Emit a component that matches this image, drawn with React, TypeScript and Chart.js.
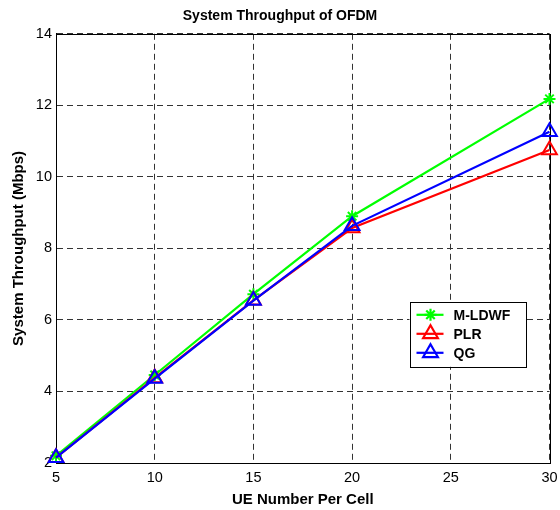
import React, { useEffect, useRef } from "react";
import { Chart, registerables } from "chart.js";

Chart.register(...registerables);

const ueNumbers = [5, 10, 15, 20, 30];
const mldwfValues = [2.2, 4.46, 6.72, 8.9, 12.18];
const plrValues = [2.15, 4.38, 6.55, 8.57, 10.75];
const qgValues = [2.15, 4.36, 6.54, 8.63, 11.26];
const yTicks = [2, 4, 6, 8, 10, 12, 14];
const xTicks = [5, 10, 15, 20, 25, 30];

const FONT = "'Liberation Sans', Arial, Helvetica, sans-serif";

const boxPlugin = {
  id: "boxPlugin",
  beforeDatasetsDraw(chart: any) {
    const { ctx, chartArea } = chart;
    ctx.save();
    ctx.strokeStyle = "#000";
    ctx.lineWidth = 1;
    ctx.setLineDash([]);
    ctx.strokeRect(
      Math.round(chartArea.left) + 0.5,
      Math.round(chartArea.top) + 0.5,
      Math.round(chartArea.right - chartArea.left),
      Math.round(chartArea.bottom - chartArea.top)
    );
    ctx.restore();
  },
};

function drawMarker(ctx: any, style: string, x: number, y: number, r: number) {
  ctx.beginPath();
  if (style === "star") {
    ctx.moveTo(x - r, y);
    ctx.lineTo(x + r, y);
    ctx.moveTo(x, y - r);
    ctx.lineTo(x, y + r);
    const d = r * Math.SQRT1_2;
    ctx.moveTo(x - d, y - d);
    ctx.lineTo(x + d, y + d);
    ctx.moveTo(x - d, y + d);
    ctx.lineTo(x + d, y - d);
    ctx.stroke();
  } else {
    const s = Math.sqrt(3) / 2;
    ctx.moveTo(x, y - r);
    ctx.lineTo(x + r * s, y + r / 2);
    ctx.lineTo(x - r * s, y + r / 2);
    ctx.closePath();
    ctx.stroke();
  }
}

const legendPlugin = {
  id: "insideLegend",
  afterDraw(chart: any) {
    const { ctx, chartArea } = chart;
    const left = chartArea.right - 140;
    const top = chartArea.top + 268;
    const w = 116;
    const h = 65;
    ctx.save();
    ctx.fillStyle = "#fff";
    ctx.fillRect(left, top, w, h);
    ctx.strokeStyle = "#000";
    ctx.lineWidth = 1;
    ctx.setLineDash([]);
    ctx.strokeRect(Math.round(left) + 0.5, Math.round(top) + 0.5, w, h);
    chart.data.datasets.forEach((ds: any, i: number) => {
      const y = top + 13 + i * 19;
      ctx.strokeStyle = ds.borderColor;
      ctx.lineWidth = 2.2;
      ctx.beginPath();
      ctx.moveTo(left + 7, y);
      ctx.lineTo(left + 34, y);
      ctx.stroke();
      drawMarker(ctx, ds.pointStyle, left + 21, y, ds.pointRadius);
      ctx.fillStyle = "#000";
      ctx.font = `bold 14px ${FONT}`;
      ctx.textBaseline = "middle";
      ctx.textAlign = "left";
      ctx.fillText(ds.label, left + 44, y + 1);
    });
    ctx.restore();
  },
};

export default function App() {
  const canvasRef = useRef<HTMLCanvasElement | null>(null);

  useEffect(() => {
    document.body.style.margin = "0";
    const canvas = canvasRef.current;
    if (!canvas) return;
    const mk = (vals: number[]) => ueNumbers.map((x, i) => ({ x, y: vals[i] }));
    const chart = new Chart(canvas, {
      type: "line",
      data: {
        datasets: [
          {
            label: "M-LDWF",
            data: mk(mldwfValues),
            borderColor: "#00ff00",
            backgroundColor: "rgba(0,0,0,0)",
            borderWidth: 2.2,
            pointStyle: "star",
            pointRadius: 6,
            pointBorderWidth: 2,
            pointBorderColor: "#00ff00",
            order: 2,
            clip: false,
          },
          {
            label: "PLR",
            data: mk(plrValues),
            borderColor: "#ff0000",
            backgroundColor: "rgba(0,0,0,0)",
            borderWidth: 2.2,
            pointStyle: "triangle",
            pointRadius: 8.5,
            pointBorderWidth: 2,
            pointBorderColor: "#ff0000",
            order: 1,
            clip: false,
          },
          {
            label: "QG",
            data: mk(qgValues),
            borderColor: "#0000ff",
            backgroundColor: "rgba(0,0,0,0)",
            borderWidth: 2.2,
            pointStyle: "triangle",
            pointRadius: 8.5,
            pointBorderWidth: 2,
            pointBorderColor: "#0000ff",
            order: 0,
            clip: false,
          },
        ] as any,
      },
      options: {
        animation: false,
        responsive: false,
        maintainAspectRatio: false,
        layout: { padding: { left: 0, right: 0, top: 0, bottom: 0 } },
        plugins: {
          legend: { display: false },
          tooltip: { enabled: false },
          title: {
            display: true,
            text: "System Throughput of OFDM",
            color: "#000",
            font: { family: FONT, size: 14, weight: "bold" },
            padding: { top: 8, bottom: 9 },
          },
        },
        scales: {
          x: {
            type: "linear",
            min: 5,
            max: 30,
            afterBuildTicks: (scale: any) => {
              scale.ticks = xTicks.map((v) => ({ value: v }));
            },
            afterFit: (scale: any) => {
              scale.height = 47;
              scale.paddingRight = 7;
            },
            ticks: {
              color: "#000",
              font: { family: FONT, size: 14.5 },
              padding: 6,
              maxRotation: 0,
            },
            grid: { color: "#333", lineWidth: 1, drawTicks: false },
            border: { display: true, color: "#000", width: 1, dash: [6, 4] },
            title: {
              display: true,
              text: "UE Number Per Cell",
              color: "#000",
              font: { family: FONT, size: 15, weight: "bold" },
              padding: { top: 0, bottom: 1 },
            },
          },
          y: {
            type: "linear",
            min: 2,
            max: 14,
            afterBuildTicks: (scale: any) => {
              scale.ticks = yTicks.map((v) => ({ value: v }));
            },
            afterFit: (scale: any) => {
              scale.width = 56;
            },
            ticks: {
              color: "#000",
              font: { family: FONT, size: 14.5 },
              padding: 4,
            },
            grid: { color: "#333", lineWidth: 1, drawTicks: false },
            border: { display: true, color: "#000", width: 1, dash: [6, 4] },
            title: {
              display: true,
              text: "System Throughput (Mbps)",
              color: "#000",
              font: { family: FONT, size: 15, weight: "bold" },
              padding: { top: 10, bottom: 0 },
            },
          },
        },
      } as any,
      plugins: [boxPlugin, legendPlugin],
    });
    return () => chart.destroy();
  }, []);

  return (
    <div style={{ width: 560, height: 510 }}>
      <canvas ref={canvasRef} width={560} height={510} style={{ display: "block" }} />
    </div>
  );
}
